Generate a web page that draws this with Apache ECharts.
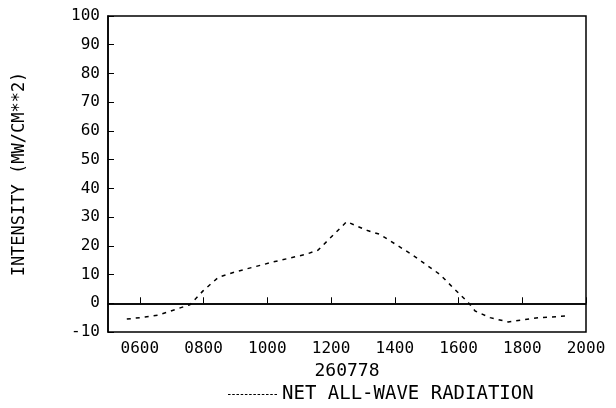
<!DOCTYPE html>
<html>
<head>
    <meta charset="utf-8">
    <title>260778</title>
    <script src="https://cdn.jsdelivr.net/npm/echarts@6/dist/echarts.min.js"></script>
    <style>
        * { margin: 0; padding: 0 }
        #main { width: 616px; height: 408px; background: #fff; }
    </style>
</head>
<body>
    <div id="main"></div>
    <script type="text/javascript">
        // time in hours, intensity in MW/CM**2
        var hours = [5.59, 6.16, 6.58, 7.57, 7.99, 8.46, 8.98, 10.19, 11.23, 11.59, 12.49, 13.12, 13.53, 14.53, 15.42, 15.83, 16.31, 16.52, 16.99, 17.56, 17.98, 18.55, 19.44];
        var netRadiation = [-5.5, -4.8, -4.1, -0.5, 4.4, 9.0, 10.9, 14.4, 17.1, 18.5, 28.4, 25.4, 24.0, 17.0, 10.0, 5.4, 0.2, -2.7, -5.0, -6.5, -5.8, -5.0, -4.4];
        var hourTicks = [6, 8, 10, 12, 14, 16, 18, 20];

        var font = 'DejaVu Sans Mono';
        var myChart = echarts.init(document.getElementById('main'));

        // legend sample: row of short dashes
        var dashIcon = 'path://';
        for (var k = 0; k < 12; k++) {
            dashIcon += 'M' + (k * 4) + ',0h2.4v1h-2.4z';
        }

        var option = {
            animation: false,
            backgroundColor: '#fff',
            grid: {
                left: 108, right: 30, top: 16, bottom: 76,
                show: true, borderColor: '#000', borderWidth: 1.5
            },
            legend: {
                top: 380,
                left: 223,
                itemWidth: 49,
                itemHeight: 2,
                itemGap: 10,
                textStyle: { fontFamily: font, fontSize: 19, color: '#000' },
                data: [{ name: 'NET ALL-WAVE RADIATION', icon: dashIcon, itemStyle: { color: '#000' } }]
            },
            xAxis: {
                type: 'value',
                min: 5,
                max: 20,
                name: '260778',
                nameLocation: 'middle',
                nameGap: 30,
                nameTextStyle: { fontFamily: font, fontSize: 18, color: '#000' },
                axisLine: { lineStyle: { color: '#000', width: 1.5 } },
                splitLine: { show: false },
                axisTick: { inside: true, length: 6, customValues: hourTicks, lineStyle: { color: '#000' } },
                axisLabel: {
                    customValues: hourTicks,
                    fontFamily: font, fontSize: 16, color: '#000', margin: 9,
                    formatter: function (v) {
                        var s = String(Math.round(v * 100));
                        while (s.length < 4) s = '0' + s;
                        return s;
                    }
                }
            },
            yAxis: {
                type: 'value',
                min: -10,
                max: 100,
                interval: 10,
                name: 'INTENSITY (MW/CM**2)',
                nameLocation: 'middle',
                nameGap: 80,
                nameTextStyle: { fontFamily: font, fontSize: 17, color: '#000' },
                axisLine: { show: true, lineStyle: { color: '#000', width: 1.5 } },
                splitLine: { show: false },
                axisTick: { show: true, inside: true, length: 6, lineStyle: { color: '#000' } },
                axisLabel: { fontFamily: font, fontSize: 16, color: '#000', margin: 8 }
            },
            series: [{
                name: 'NET ALL-WAVE RADIATION',
                type: 'line',
                symbol: 'none',
                data: hours.map(function (h, i) { return [h, netRadiation[i]]; }),
                lineStyle: { color: '#000', width: 1.5, type: [4, 5] },
                itemStyle: { color: '#000' },
                markLine: {
                    silent: true,
                    symbol: 'none',
                    label: { show: false },
                    lineStyle: { color: '#000', width: 1.5, type: 'solid' },
                    data: [{ yAxis: 0 }]
                }
            }]
        };

        myChart.setOption(option);
    </script>
</body>
</html>
